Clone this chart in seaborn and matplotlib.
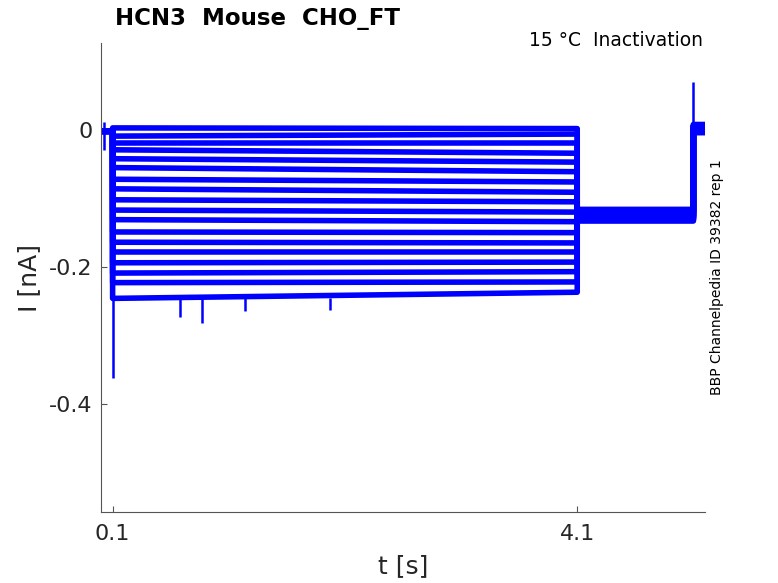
import matplotlib
matplotlib.use("Agg")
import matplotlib.pyplot as plt
import numpy as np
import pandas as pd
import seaborn as sns

# protocol timing [s]
t_on = 0.1
t_off = 4.1
t_test_off = 5.1
t_end = 5.2

hold_pre = -0.002
step_start = [0.003, -0.009, -0.019, -0.029, -0.042, -0.055, -0.072, -0.086, -0.102,
              -0.117, -0.131, -0.149, -0.164, -0.178, -0.194, -0.209, -0.223, -0.246]
step_end = [0.002, -0.006, -0.019, -0.034, -0.047, -0.061, -0.076, -0.091, -0.105,
            -0.120, -0.134, -0.150, -0.165, -0.178, -0.193, -0.207, -0.222, -0.237]
test_level = [-0.116, -0.119, -0.122, -0.125, -0.128, -0.131, -0.118, -0.121, -0.124,
              -0.127, -0.130, -0.133, -0.117, -0.120, -0.123, -0.126, -0.129, -0.132]
post_level = [0.008, 0.005, 0.002, -0.001, -0.004, 0.006, 0.003, 0.000, -0.003,
              0.007, 0.004, 0.001, -0.002, 0.005, 0.002, -0.001, 0.006, 0.003]

# transients / spikes (time, low, high)
spike_t = [0.026, 0.1, 0.68, 0.87, 1.24, 1.97, 5.1]
spike_lo = [-0.029, -0.362, -0.273, -0.282, -0.264, -0.263, -0.125]
spike_hi = [0.012, 0.0, -0.245, -0.245, -0.245, -0.245, 0.0705]

rows = []
for k in range(len(step_start)):
    ts = [0.0, t_on, t_on, t_off, t_off, t_test_off, t_test_off, t_end]
    vs = [hold_pre, hold_pre, step_start[k], step_end[k], test_level[k],
          test_level[k], post_level[k], post_level[k]]
    for i, (t, v) in enumerate(zip(ts, vs)):
        rows.append({"sweep": k, "order": i, "t": t, "I": v})
df = pd.DataFrame(rows)

sns.set_style("ticks")
plt.rcParams['font.family'] = ['DejaVu Sans']
grey = "#262626"

fig = plt.figure(figsize=(7.78, 5.83), dpi=100)
ax = fig.add_axes([101 / 778, 71 / 583, 604 / 778, 469 / 583])

sns.lineplot(data=df, x="t", y="I", units="sweep", estimator=None, sort=False,
             color="#0000ff", linewidth=4.0, ax=ax)
ax.vlines(spike_t, spike_lo, spike_hi, color="#0000ff", linewidth=1.8)

ax.set_xlim(0, 5.2)
ax.set_ylim(-0.558, 0.127)
ax.set_xticks([0.1, 4.1])
ax.set_xticklabels(["0.1", "4.1"])
ax.set_yticks([-0.4, -0.2, 0])
ax.set_yticklabels(["-0.4", "-0.2", "0"])
ax.tick_params(direction="in", length=4.3, width=0.8, colors="#555555",
               labelcolor=grey, labelsize=16)
ax.tick_params(axis="x", pad=9)
ax.tick_params(axis="y", pad=6)
for s in ["top", "right"]:
    ax.spines[s].set_visible(False)
for s in ["left", "bottom"]:
    ax.spines[s].set_color("#555555")
    ax.spines[s].set_linewidth(0.8)

ax.set_xlabel("t [s]", fontsize=18, color=grey, labelpad=7)
ax.set_ylabel("I [nA]", fontsize=18, color=grey, labelpad=6)

fig.text(115 / 778, 1 - 18 / 583, "HCN3  Mouse  CHO_FT", fontsize=16.5,
         fontweight="bold", color="black", ha="left", va="center")
fig.text(703 / 778, 1 - 41 / 583, "15 °C  Inactivation", fontsize=13.5,
         color="black", ha="right", va="center")
fig.text(717 / 778, 1 - 277 / 583, "BBP Channelpedia ID 39382 rep 1", fontsize=10,
         color="black", rotation=90, ha="center", va="center")

fig.savefig("out.png", dpi=100)
